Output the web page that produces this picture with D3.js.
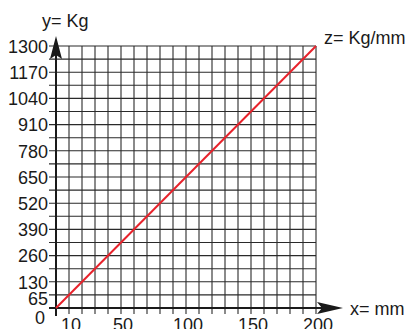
<!DOCTYPE html>
<html><head><meta charset="utf-8">
<script src="https://cdn.jsdelivr.net/npm/d3@7"></script>
<style>html,body{margin:0;padding:0;background:#fff;overflow:hidden}</style>
</head><body>
<svg id="c" width="408" height="329"></svg>
<script>
const xTickValues = [10, 50, 100, 150, 200];
const yTickValues = [0, 65, 130, 260, 390, 520, 650, 780, 910, 1040, 1170, 1300];
const gridStepX = 10, gridStepY = 65;
const lineX = [0, 200];
const lineY = [0, 1300];
const xAxisLabel = "x= mm", yAxisLabel = "y= Kg", lineLabel = "z= Kg/mm";

const svg = d3.select("#c");
const x = d3.scaleLinear().domain([0, 200]).range([56, 316]);
const y = d3.scaleLinear().domain([0, 1300]).range([308, 46]);
const font = "'Liberation Sans', Arial, Helvetica, sans-serif";
const ink = "#1a1a1a";

const gx = d3.range(0, 200 + 1e-9, gridStepX);
const gy = d3.range(0, 1300 + 1e-9, gridStepY);

// vertical grid lines (with tick extension below axis)
svg.append("g").selectAll("line").data(gx.filter(d => d > 0)).join("line")
  .attr("x1", d => x(d)).attr("x2", d => x(d))
  .attr("y1", y(1300)).attr("y2", y(0) + 6)
  .attr("stroke", "#2a2a2a").attr("stroke-width", 1.1);
// horizontal grid lines (with tick extension left of axis)
svg.append("g").selectAll("line").data(gy.filter(d => d > 0)).join("line")
  .attr("x1", x(0) - 7).attr("x2", x(200))
  .attr("y1", d => y(d)).attr("y2", d => y(d))
  .attr("stroke", "#2a2a2a").attr("stroke-width", 1.1);

// axes
svg.append("line").attr("x1", x(0) - 7).attr("x2", 330)
  .attr("y1", y(0)).attr("y2", y(0)).attr("stroke", ink).attr("stroke-width", 2);
svg.append("line").attr("x1", x(0)).attr("x2", x(0))
  .attr("y1", y(0) + 8).attr("y2", 50).attr("stroke", ink).attr("stroke-width", 2);
// arrowheads
const ax = x(0), ay = y(0);
svg.append("path")
  .attr("d", `M${ax},36 L${ax + 6},59 L${ax},55 L${ax - 6},59 Z`)
  .attr("fill", ink);
svg.append("path")
  .attr("d", `M343,${ay} L317,${ay - 6} L322,${ay} L317,${ay + 6} Z`)
  .attr("fill", ink);

// red line
svg.append("path")
  .datum(lineX.map((d, i) => [d, lineY[i]]))
  .attr("d", d3.line().x(d => x(d[0])).y(d => y(d[1])))
  .attr("stroke", "#e8222b").attr("stroke-width", 2).attr("fill", "none");

// y tick labels
svg.append("g").selectAll("text").data(yTickValues).join("text")
  .attr("x", d => d === 0 ? 45 : 48)
  .attr("y", d => y(d) + (d === 0 ? 11 : d === 65 ? 5 : 2))
  .attr("dominant-baseline", "middle")
  .attr("text-anchor", "end")
  .attr("font-family", font).attr("font-size", 18).attr("fill", ink)
  .text(d => d);

// x tick labels
svg.append("g").selectAll("text").data(xTickValues).join("text")
  .attr("x", d => x(d) + 2)
  .attr("y", 331)
  .attr("text-anchor", "middle")
  .attr("font-family", font).attr("font-size", 18).attr("fill", ink)
  .text(d => d);

// axis titles
svg.append("text").attr("x", 42).attr("y", 27)
  .attr("font-family", font).attr("font-size", 18).attr("fill", ink).text(yAxisLabel);
svg.append("text").attr("x", 350).attr("y", 315)
  .attr("font-family", font).attr("font-size", 18).attr("fill", ink).text(xAxisLabel);
svg.append("text").attr("x", 324).attr("y", 44)
  .attr("font-family", font).attr("font-size", 18).attr("fill", ink).text(lineLabel);
</script>
</body></html>
